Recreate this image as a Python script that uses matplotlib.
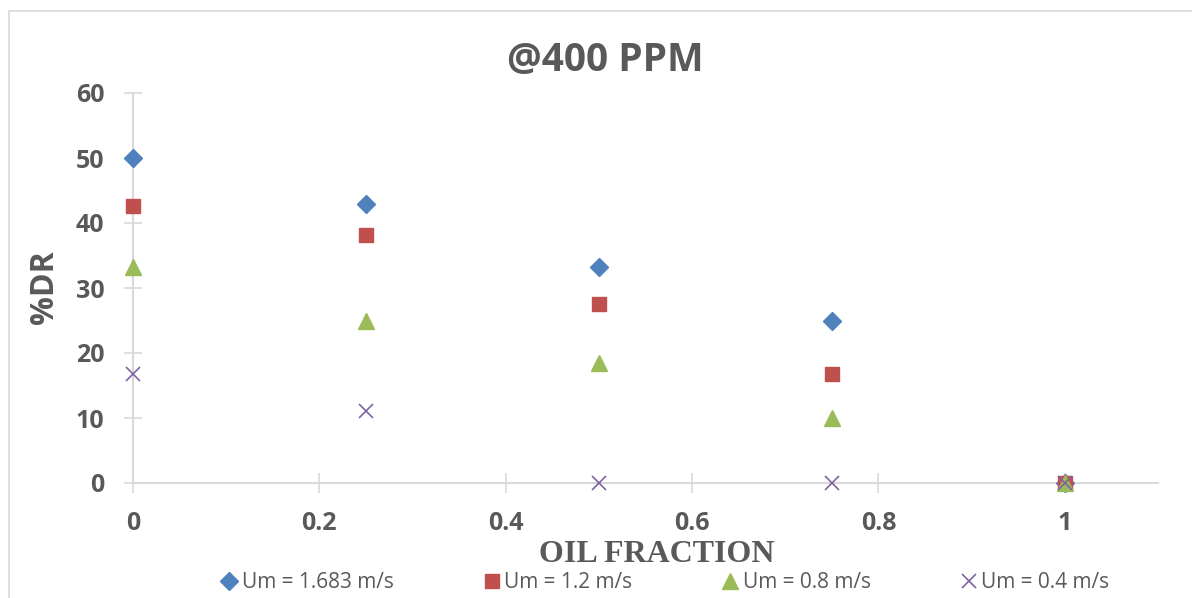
import matplotlib
matplotlib.use("Agg")
import matplotlib.pyplot as plt
from matplotlib.patches import Rectangle

oil_fraction = [0, 0.25, 0.5, 0.75, 1.0]
dr_1683 = [50.0, 42.9, 33.3, 25.0, 0.0]
dr_12 = [42.6, 38.1, 27.6, 16.7, 0.0]
dr_08 = [33.3, 25.0, 18.5, 10.0, 0.0]
dr_04 = [16.7, 11.1, 0.0, 0.0, 0.0]
labels = ["Um = 1.683 m/s", "Um = 1.2 m/s", "Um = 0.8 m/s", "Um = 0.4 m/s"]
x_ticks = [0, 0.2, 0.4, 0.6, 0.8, 1]
x_ticklabels = ["0", "0.2", "0.4", "0.6", "0.8", "1"]
y_ticks = [0, 10, 20, 30, 40, 50, 60]

W, H = 1192, 598
fig = plt.figure(figsize=(W / 100, H / 100), dpi=100)
fig.patch.set_facecolor("white")
fig.patches.append(Rectangle((9 / W, -0.1), 1.2, 1 - 11 / H + 0.1, transform=fig.transFigure,
                             fill=False, edgecolor="#D9D9D9", linewidth=1.2))

ax = fig.add_axes([133 / W, 1 - 483 / H, (1158 - 133) / W, (483 - 93) / H])
ax.set_xlim(0, 1.1)
ax.set_ylim(0, 60)

gray = "#595959"
line_c = "#D9D9D9"
for s in ["top", "right"]:
    ax.spines[s].set_visible(False)
for s in ["left", "bottom"]:
    ax.spines[s].set_color(line_c)
    ax.spines[s].set_linewidth(1.5)

series = [
    (dr_1683, "D", "#4F81BD", 9),
    (dr_12, "s", "#C0504D", 10),
    (dr_08, "^", "#9BBB59", 11),
    (dr_04, "x", "#8064A2", 10),
]
for (vals, m, c, ms), lab in zip(series, labels):
    kw = dict(markeredgewidth=1.2) if m == "x" else dict(markeredgecolor=c)
    ax.plot(oil_fraction, vals, linestyle="none", marker=m, color=c, markersize=ms,
            clip_on=False, label=lab, zorder=3, **kw)

ax.set_xticks(x_ticks)
ax.set_xticklabels(x_ticklabels)
ax.set_yticks(y_ticks)
ax.tick_params(axis="x", direction="inout", length=15, width=1.2, color=line_c, pad=13,
               labelsize=18, labelcolor=gray)
ax.tick_params(axis="y", direction="inout", length=13, width=1.2, color=line_c, pad=14,
               labelsize=18, labelcolor=gray)
for t in ax.get_xticklabels() + ax.get_yticklabels():
    t.set_fontweight("bold")
    t.set_fontfamily("Open Sans")

fig.text(605 / W, 1 - 60 / H, "@400 PPM", ha="center", va="center", fontsize=28,
         fontweight="bold", color=gray, family="Open Sans")
fig.text(45 / W, 1 - 287 / H, "%DR", ha="center", va="center", rotation=90, fontsize=23,
         fontweight="bold", color=gray, family="Open Sans")
fig.text(657 / W, 1 - 555 / H, "OIL FRACTION", ha="center", va="center", fontsize=23,
         fontweight="bold", color=gray, family="Liberation Serif")

leg = fig.legend(loc="center", bbox_to_anchor=(664 / W, 1 - 583 / H), ncol=4, frameon=False,
                 handletextpad=0.1, columnspacing=4.2, handlelength=1.0,
                 prop={"family": "Open Sans", "size": 15}, borderaxespad=0, borderpad=0)
for t in leg.get_texts():
    t.set_color(gray)

fig.savefig("out.png", dpi=100)
